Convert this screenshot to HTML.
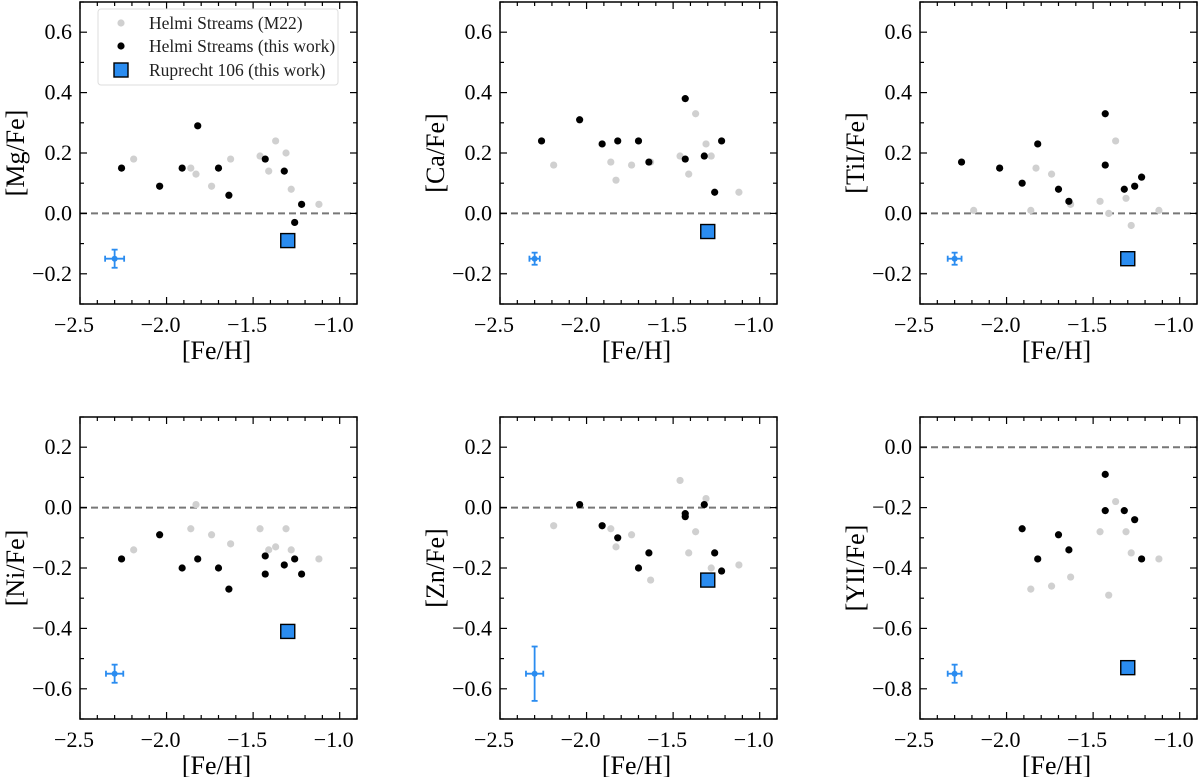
<!DOCTYPE html>
<html><head><meta charset="utf-8">
<style>body{margin:0;background:#fff}svg{display:block;font-family:"Liberation Serif",serif}</style>
</head><body>
<svg id="fig" width="1200" height="777"></svg>
<script>
const feH_black_mg=[-2.26,-2.04,-1.91,-1.82,-1.70,-1.64,-1.43,-1.32,-1.26,-1.22];
const mg_black=[0.15,0.09,0.15,0.29,0.15,0.06,0.18,0.14,-0.03,0.03];
const feH_gray=[-2.19,-1.86,-1.83,-1.74,-1.63,-1.46,-1.41,-1.37,-1.31,-1.28,-1.12];
const mg_gray=[0.18,0.15,0.13,0.09,0.18,0.19,0.14,0.24,0.20,0.08,0.03];
const feH_black=[-2.26,-2.04,-1.91,-1.82,-1.70,-1.64,-1.43,-1.43,-1.32,-1.26,-1.22];
const ca_black=[0.24,0.31,0.23,0.24,0.24,0.17,0.38,0.18,0.19,0.07,0.24];
const ca_gray=[0.16,0.17,0.11,0.16,0.17,0.19,0.13,0.33,0.23,0.19,0.07];
const ti_black=[0.17,0.15,0.10,0.23,0.08,0.04,0.33,0.16,0.08,0.09,0.12];
const ti_gray=[0.01,0.01,0.15,0.13,0.03,0.04,0.00,0.24,0.05,-0.04,0.01];
const ni_black=[-0.17,-0.09,-0.20,-0.17,-0.20,-0.27,-0.16,-0.22,-0.19,-0.17,-0.22];
const ni_gray=[-0.14,-0.07,0.01,-0.09,-0.12,-0.07,-0.14,-0.13,-0.07,-0.14,-0.17];
const feH_black_zn=[-2.04,-1.91,-1.82,-1.70,-1.64,-1.43,-1.43,-1.32,-1.26,-1.22];
const zn_black=[0.01,-0.06,-0.10,-0.20,-0.15,-0.02,-0.03,0.01,-0.15,-0.21];
const zn_gray=[-0.06,-0.07,-0.13,-0.09,-0.24,0.09,-0.15,-0.08,0.03,-0.20,-0.19];
const feH_black_y=[-1.91,-1.82,-1.70,-1.64,-1.43,-1.43,-1.32,-1.26,-1.22];
const y_black=[-0.27,-0.37,-0.29,-0.34,-0.09,-0.21,-0.21,-0.24,-0.37];
const feH_gray_y=[-1.86,-1.74,-1.63,-1.46,-1.41,-1.37,-1.31,-1.28,-1.12];
const y_gray=[-0.47,-0.46,-0.43,-0.28,-0.49,-0.18,-0.28,-0.35,-0.37];
const rup_fe=[-1.30,-1.30,-1.30,-1.30,-1.30,-1.30];
const rup_x=[-0.09,-0.06,-0.15,-0.41,-0.24,-0.73];
const err_y=[-0.15,-0.15,-0.15,-0.55,-0.55,-0.75];
const err_dx=[0.055,0.03,0.04,0.05,0.05,0.04];
const err_dy=[0.03,0.02,0.02,0.03,0.09,0.03];
const labels=["[Mg/Fe]","[Ca/Fe]","[TiI/Fe]","[Ni/Fe]","[Zn/Fe]","[YII/Fe]"];
const ylims=[[-0.3,0.7],[-0.3,0.7],[-0.3,0.7],[-0.7,0.3],[-0.7,0.3],[-0.9,0.1]];
const panels=[
 {bx:feH_black_mg,by:mg_black,gx:feH_gray,gy:mg_gray},
 {bx:feH_black,by:ca_black,gx:feH_gray,gy:ca_gray},
 {bx:feH_black,by:ti_black,gx:feH_gray,gy:ti_gray},
 {bx:feH_black,by:ni_black,gx:feH_gray,gy:ni_gray},
 {bx:feH_black_zn,by:zn_black,gx:feH_gray,gy:zn_gray},
 {bx:feH_black_y,by:y_black,gx:feH_gray_y,gy:y_gray}];
const NS="http://www.w3.org/2000/svg";
const svg=document.getElementById('fig');
function mk(t,a,p){const e=document.createElementNS(NS,t);for(const k in a)e.setAttribute(k,a[k]);(p||svg).appendChild(e);return e;}
const lefts=[80,500,920],tops=[2,417],W=277,H=302,XL=[-2.5,-0.9];
const fmt=v=>(v<-1e-9?"\u2212":"")+Math.abs(v).toFixed(1);
panels.forEach((P,i)=>{
 const L=lefts[i%3],T=tops[Math.floor(i/3)],yl=ylims[i];
 const sx=v=>L+(v-XL[0])/(XL[1]-XL[0])*W;
 const sy=v=>T+H-(v-yl[0])/(yl[1]-yl[0])*H;
 const g=mk('g',{});
 
 
 const zl=mk('line',{x1:L,x2:L+W,y1:sy(0),y2:sy(0),stroke:'#777','stroke-width':2,'stroke-dasharray':'7,4'},g);
 
 
 for(let k=-25;k<=-9;k++){const v=k/10,x=sx(v),maj=k%5===0,len=maj?7:4;
  mk('line',{x1:x,x2:x,y1:T+H,y2:T+H-len,stroke:'#000','stroke-width':1.2},g);
  mk('line',{x1:x,x2:x,y1:T,y2:T+len,stroke:'#000','stroke-width':1.2},g);
  if(maj){const t=mk('text',{x:x-6,y:T+H+28,'text-anchor':'middle','font-size':22},g);t.textContent=fmt(v);
   }}
 for(let k=Math.round(yl[0]*10);k<=Math.round(yl[1]*10);k++){const v=k/10,y=sy(v),maj=k%2===0,len=maj?7:4;
  mk('line',{x1:L,x2:L+len,y1:y,y2:y,stroke:'#000','stroke-width':1.2},g);
  mk('line',{x1:L+W,x2:L+W-len,y1:y,y2:y,stroke:'#000','stroke-width':1.2},g);
  if(maj&&k>Math.round(yl[0]*10)&&k<Math.round(yl[1]*10)){const t=mk('text',{x:L-8,y:y+7,'text-anchor':'end','font-size':22},g);t.textContent=fmt(v);
   }}
 const fr=mk('rect',{x:L,y:T,width:W,height:H,fill:'none',stroke:'#000','stroke-width':1.5},g);
 
 const xt=mk('text',{x:L+W/2-2,y:T+H+55,'text-anchor':'middle','font-size':26},g);xt.textContent='[Fe/H]';
 
 const yt=mk('text',{x:0,y:0,'text-anchor':'middle','font-size':26,transform:`translate(${L-56},${T+H/2}) rotate(-90)`},g);yt.textContent=labels[i];
 
 P.gx.forEach((x,j)=>{const c=mk('circle',{cx:sx(x),cy:sy(P.gy[j]),r:3.6,fill:'#d0d0d0'},g);
  });
 P.bx.forEach((x,j)=>{const c=mk('circle',{cx:sx(x),cy:sy(P.by[j]),r:3.6,fill:'#000'},g);
  });
 const r=mk('rect',{x:sx(rup_fe[i])-7,y:sy(rup_x[i])-7,width:14,height:14,fill:'#2a8cf0',stroke:'#000','stroke-width':1.4},g);
 
 const ex=-2.30,ey=err_y[i],eg=mk('g',{stroke:'#2a8cf0','stroke-width':1.8},g);
 
 mk('line',{x1:sx(ex-err_dx[i]),x2:sx(ex+err_dx[i]),y1:sy(ey),y2:sy(ey)},eg);
 mk('line',{x1:sx(ex),x2:sx(ex),y1:sy(ey-err_dy[i]),y2:sy(ey+err_dy[i])},eg);
 [ex-err_dx[i],ex+err_dx[i]].forEach(v=>mk('line',{x1:sx(v),x2:sx(v),y1:sy(ey)-3,y2:sy(ey)+3},eg));
 [ey-err_dy[i],ey+err_dy[i]].forEach(v=>mk('line',{x1:sx(ex)-3,x2:sx(ex)+3,y1:sy(v),y2:sy(v)},eg));
 mk('circle',{cx:sx(ex),cy:sy(ey),r:3,fill:'#2a8cf0',stroke:'none'},eg);
});
const lg=mk('g',{});


mk('rect',{x:98,y:9,width:240,height:76,rx:3,fill:'#fff',stroke:'#ddd','stroke-width':1},lg);
mk('circle',{cx:121,cy:23,r:3.6,fill:'#d0d0d0'},lg);
mk('circle',{cx:121,cy:46,r:3.6,fill:'#000'},lg);
mk('rect',{x:114,y:63,width:14,height:14,fill:'#2a8cf0',stroke:'#000','stroke-width':1.4},lg);
[["Helmi Streams (M22)",29],["Helmi Streams (this work)",52],["Ruprecht 106 (this work)",76]].forEach(([t,y])=>{
 const e=mk('text',{x:149,y:y,'font-size':17.5,fill:'#222'},lg);e.textContent=t;
 });
</script>
</body></html>
